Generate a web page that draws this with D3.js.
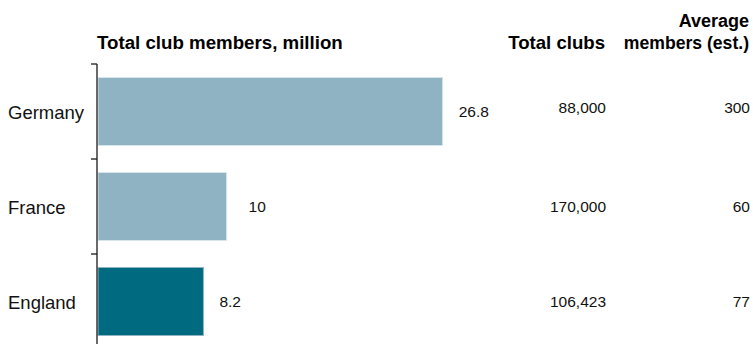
<!DOCTYPE html>
<html>
<head>
<meta charset="utf-8">
<script src="https://cdn.jsdelivr.net/npm/d3@7/dist/d3.min.js"></script>
<style>
  html, body { margin: 0; padding: 0; background: #fff; }
  svg { display: block; font-family: "Liberation Sans", Arial, sans-serif; }
</style>
</head>
<body>
<svg id="chart" width="753" height="344"></svg>
<script>
// Club membership by country
const countries = ["Germany", "France", "England"];
const members = [26.8, 10, 8.2];            // total club members, million
const totalClubs = ["88,000", "170,000", "106,423"];
const avgMembers = ["300", "60", "77"];
const highlight = ["England"];

const svg = d3.select("#chart");
const W = 753, H = 344;

const x = d3.scaleLinear().domain([0, 30]).range([98, 98 + 30 * 12.86]);
const y = d3.scaleBand()
  .domain(countries)
  .range([64, 349])
  .paddingInner(0.284)
  .paddingOuter(0.142);

const rows = countries.map((c, i) => ({
  country: c, value: members[i], clubs: totalClubs[i], avg: avgMembers[i]
}));

// column headers
const hdr = svg.append("g")
  .attr("font-weight", "bold")
  .attr("font-size", 18)
  .attr("fill", "#000");
hdr.append("text").attr("x", 97).attr("y", 49).attr("font-size", 18.7).text("Total club members, million");
hdr.append("text").attr("x", 605).attr("y", 49).attr("text-anchor", "end").attr("font-size", 18.6).text("Total clubs");
hdr.append("text").attr("x", 749).attr("y", 27).attr("text-anchor", "end").text("Average");
hdr.append("text").attr("x", 749).attr("y", 49).attr("text-anchor", "end").attr("font-size", 17.6).text("members (est.)");

// bars
svg.append("g").selectAll("rect")
  .data(rows)
  .join("rect")
  .attr("x", x(0))
  .attr("y", d => y(d.country))
  .attr("width", d => x(d.value) - x(0))
  .attr("height", y.bandwidth())
  .attr("fill", d => highlight.includes(d.country) ? "#006b80" : "#8fb3c3")
  .attr("stroke", d => highlight.includes(d.country) ? "#8fb3c3" : "#d8e6ec")
  .attr("stroke-width", 1);

// category axis: vertical rule with ticks at band boundaries
const axis = svg.append("g").attr("stroke", "#1a1a1a").attr("stroke-width", 1.3);
axis.append("line")
  .attr("x1", 97).attr("x2", 97)
  .attr("y1", y.range()[0]).attr("y2", H);
countries.forEach((c, i) => {
  const ty = y.range()[0] + i * y.step();
  axis.append("line").attr("x1", 91).attr("x2", 97).attr("y1", ty).attr("y2", ty);
});

// country names
svg.append("g").selectAll("text")
  .data(rows)
  .join("text")
  .attr("x", 8)
  .attr("y", d => y(d.country) + y.bandwidth() / 2 + 1)
  .attr("dy", "0.35em")
  .attr("font-size", 18.5)
  .attr("fill", "#111")
  .text(d => d.country);

// value labels beside bars
const gap = d => d.country === "France" ? 22 : 16;
svg.append("g").selectAll("text")
  .data(rows)
  .join("text")
  .attr("x", d => x(d.value) + gap(d))
  .attr("y", d => y(d.country) + y.bandwidth() / 2)
  .attr("dy", "0.35em")
  .attr("font-size", 15.5)
  .attr("fill", "#111")
  .text(d => d3.format("~g")(d.value));

// table columns
const cols = svg.append("g").attr("font-size", 15.5).attr("fill", "#111").attr("text-anchor", "end");
cols.selectAll("text.clubs")
  .data(rows)
  .join("text")
  .attr("class", "clubs")
  .attr("x", 606)
  .attr("y", (d, i) => y(d.country) + y.bandwidth() / 2 - (i === 0 ? 3.5 : 0))
  .attr("dy", "0.35em")
  .text(d => d.clubs);
cols.selectAll("text.avg")
  .data(rows)
  .join("text")
  .attr("class", "avg")
  .attr("x", 750)
  .attr("y", (d, i) => y(d.country) + y.bandwidth() / 2 - (i === 0 ? 3.5 : 0))
  .attr("dy", "0.35em")
  .text(d => d.avg);
</script>
</body>
</html>
